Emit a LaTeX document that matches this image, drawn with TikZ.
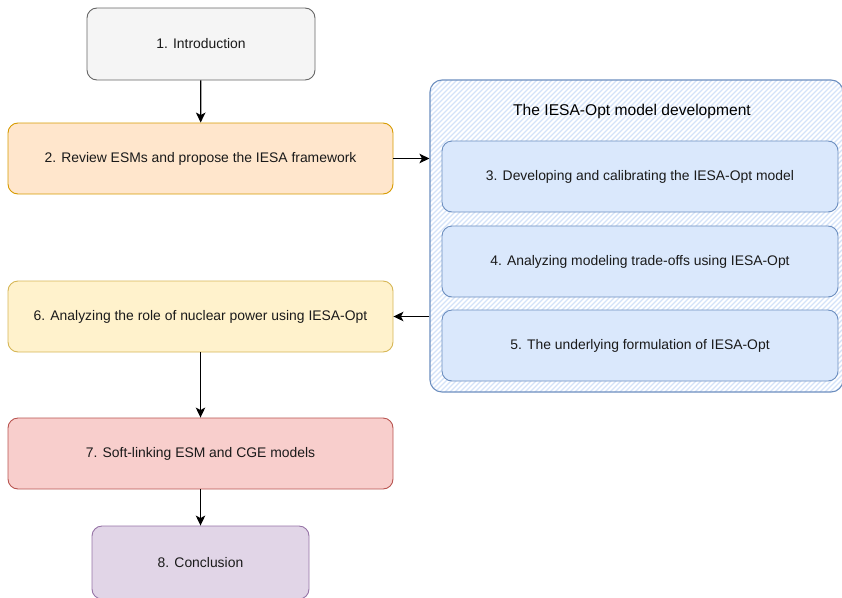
\documentclass[tikz,border=0pt]{standalone}
\usepackage{fontspec}
\setmainfont{Liberation Sans}
\usetikzlibrary{arrows.meta}

\definecolor{grayfill}{HTML}{F5F5F5}
\definecolor{graystroke}{HTML}{666666}
\definecolor{orangefill}{HTML}{FFE6CC}
\definecolor{orangestroke}{HTML}{D79B00}
\definecolor{bluefill}{HTML}{DAE8FC}
\definecolor{bluestroke}{HTML}{6C8EBF}
\definecolor{yellowfill}{HTML}{FFF2CC}
\definecolor{yellowstroke}{HTML}{D6B656}
\definecolor{redfill}{HTML}{F8CECC}
\definecolor{redstroke}{HTML}{B85450}
\definecolor{purplefill}{HTML}{E1D5E7}
\definecolor{purplestroke}{HTML}{9673A6}
\definecolor{hatchblue}{HTML}{D4E3F9}
\definecolor{textdark}{HTML}{1A1A1A}

\tikzset{
  stagebox/.style={draw, rounded corners=10pt, line width=0.9pt,
    minimum height=71pt, inner sep=0pt, align=center, text=textdark,
    font=\fontsize{13.9}{17}\selectfont},
  grouppanel/.style={draw=bluestroke, rounded corners=12pt, line width=1.1pt,
    minimum width=413pt, minimum height=312pt, inner sep=0pt},
  hatchline/.style={draw=hatchblue, line width=1.3pt},
  flow/.style={draw=black, line width=1.2pt,
    -{Stealth[length=10pt,width=9.5pt,inset=2.5pt]}},
}

\begin{document}
\begin{tikzpicture}[x=1pt,y=-1pt]
\useasboundingbox (0,0) rectangle (842,597);

% group panel with diagonal hatching
\node[grouppanel, path picture={
    \foreach \i in {-330,-325,...,430}
      \draw[hatchline] ([xshift=\i pt,yshift=-5pt]path picture bounding box.south west) -- ++(420,-420);
  }] (grp) at (636.5,236) {};
\node[font=\fontsize{15.6}{18}\selectfont, text=black] (grptitle) at (632,111) {The IESA-Opt model development};

% stages inside the group
\node[stagebox, fill=bluefill, draw=bluestroke, minimum width=396pt] (s3) at (640,176.5)
  {3. Developing and calibrating the IESA-Opt model};
\node[stagebox, fill=bluefill, draw=bluestroke, minimum width=396pt] (s4) at (640,261.5)
  {4. Analyzing modeling trade-offs using IESA-Opt};
\node[stagebox, fill=bluefill, draw=bluestroke, minimum width=396pt] (s5) at (640,345.5)
  {5. The underlying formulation of IESA-Opt};

% main column
\node[stagebox, fill=grayfill, draw=graystroke, minimum width=228pt, minimum height=72pt] (s1) at (201,44)
  {1. Introduction};
\node[stagebox, fill=orangefill, draw=orangestroke, minimum width=385pt] (s2) at (200.5,158.5)
  {2. Review ESMs and propose the IESA framework};
\node[stagebox, fill=yellowfill, draw=yellowstroke, minimum width=385pt] (s6) at (200.5,316.5)
  {6. Analyzing the role of nuclear power using IESA-Opt};
\node[stagebox, fill=redfill, draw=redstroke, minimum width=385pt] (s7) at (200.5,453.5)
  {7. Soft-linking ESM and CGE models};
\node[stagebox, fill=purplefill, draw=purplestroke, minimum width=217pt, minimum height=73pt] (s8) at (200.5,562.5)
  {8. Conclusion};

% connectors
\draw[flow] (s1) -- (s2);
\draw[flow] (s2.east) -- (s2.east -| grp.west);
\draw[flow] (s6.east -| grp.west) -- (s6.east);
\draw[flow] (s6) -- (s7);
\draw[flow] (s7) -- (s8);
\end{tikzpicture}
\end{document}
